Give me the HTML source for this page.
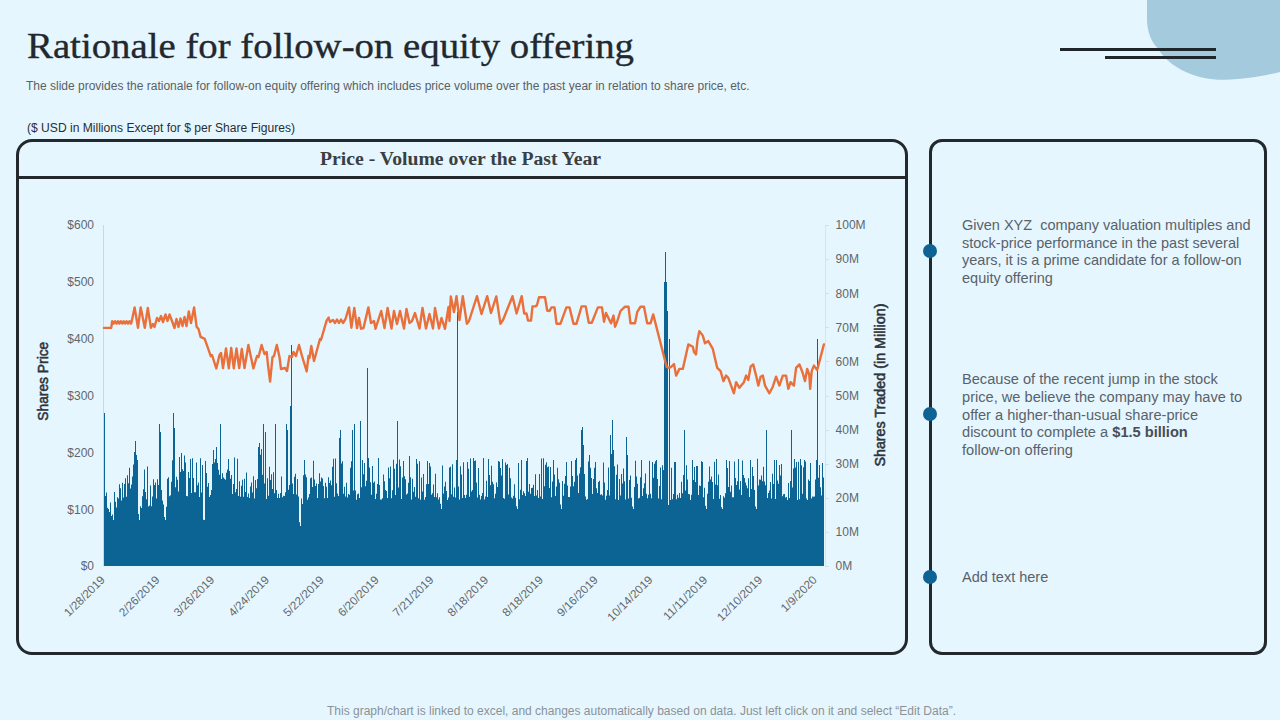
<!DOCTYPE html>
<html><head><meta charset="utf-8">
<title>Rationale for follow-on equity offering</title>
<style>
html,body{margin:0;padding:0;}
body{width:1280px;height:720px;overflow:hidden;background:#e6f6fe;position:relative;font-family:"Liberation Sans",sans-serif;}
.abs{position:absolute;white-space:nowrap;}
#title{left:27px;top:24px;transform:scaleX(1.0778);-webkit-text-stroke:0.35px #22282d;font-family:"Liberation Serif",serif;font-size:36px;line-height:44px;color:#22282d;transform-origin:0 50%;}
#sub{left:26px;top:78px;font-size:12px;line-height:16px;color:#5a5f63;transform-origin:0 50%;}
#usd{left:27px;top:120px;transform:scaleX(1.007);font-size:12px;line-height:16px;color:#2a2e31;transform-origin:0 50%;}
#foot{left:327px;top:703px;font-size:12px;line-height:16px;color:#8a9297;transform-origin:0 50%;}
.panel{position:absolute;box-sizing:border-box;border:3px solid #22282c;}
#pl{left:16px;top:139px;width:892px;height:516px;border-radius:16px;}
#pr{left:929px;top:139px;width:338px;height:516px;border-radius:13px;}
#divider{position:absolute;left:18px;top:176px;width:889px;height:3px;background:#22282c;}
#ctitle{left:320px;top:148px;transform:scaleX(1.0938);font-family:"Liberation Serif",serif;font-weight:bold;font-size:18px;line-height:22px;color:#3a3f44;transform-origin:0 50%;}
.dot{position:absolute;width:14px;height:14px;border-radius:50%;background:#0e6394;left:923px;}
.rt{position:absolute;left:962px;font-size:14.5px;line-height:17.7px;color:#59626a;white-space:nowrap;}
.rt b{color:#474e55;}
svg{position:absolute;left:0;top:0;}
</style></head>
<body>
<svg width="1280" height="720" viewBox="0 0 1280 720">
<path d="M1147 0 L1147 18 C1147 30 1150 40 1157.5 48 C1164 58 1172 66 1187 72.5 C1199 78 1212 80 1225 79.7 C1245 79.5 1263 76 1280 72 L1280 0 Z" fill="#a3cadd"/>
<rect x="1060" y="48" width="156" height="3" fill="#1f272c"/>
<rect x="1105" y="56" width="111" height="3" fill="#1f272c"/>
</svg>
<div id="title" class="abs">Rationale for follow-on equity offering</div>
<div id="sub" class="abs">The slide provides the rationale for follow-on equity offering which includes price volume over the past year in relation to share price, etc.</div>
<div id="usd" class="abs">($ USD in Millions Except for $ per Share Figures)</div>
<div id="pl" class="panel"></div>
<div id="divider"></div>
<div id="ctitle" class="abs">Price - Volume over the Past Year</div>
<div id="pr" class="panel"></div>
<svg width="1280" height="720" viewBox="0 0 1280 720"><style>.ax{font-family:"Liberation Sans",sans-serif;font-size:12px;fill:#5f666b}.dt{font-size:11.7px}.at{font-family:"Liberation Sans",sans-serif;font-weight:normal;font-size:14px;fill:#2e353b;stroke:#2e353b;stroke-width:0.55px}</style><rect x="103" y="225" width="1" height="341" fill="#cfd6dc"/><rect x="825" y="225" width="1" height="341" fill="#d9e3ea"/><path d="M104.00 566.00L104.00 413.0 L105.00 413.0L105.00 496.0 L106.00 496.0L106.00 492.5 L107.00 492.5L107.00 507.8 L108.00 507.8L108.00 509.0 L109.00 509.0L109.00 512.0 L110.00 512.0L110.00 502.5 L111.00 502.5L111.00 515.9 L112.00 515.9L112.00 514.4 L113.00 514.4L113.00 520.0 L114.00 520.0L114.00 492.0 L115.00 492.0L115.00 501.7 L116.00 501.7L116.00 507.4 L117.00 507.4L117.00 497.2 L118.00 497.2L118.00 498.6 L119.00 498.6L119.00 484.2 L120.00 484.2L120.00 488.3 L121.00 488.3L121.00 500.5 L122.00 500.5L122.00 482.7 L123.00 482.7L123.00 497.4 L124.00 497.4L124.00 484.1 L125.00 484.1L125.00 478.3 L126.00 478.3L126.00 496.8 L127.00 496.8L127.00 475.3 L128.00 475.3L128.00 483.3 L129.00 483.3L129.00 467.8 L130.00 467.8L130.00 488.5 L131.00 488.5L131.00 484.6 L132.00 484.6L132.00 476.5 L133.00 476.5L133.00 464.4 L134.00 464.4L134.00 452.0 L135.00 452.0L135.00 441.0 L136.00 441.0L136.00 455.0 L137.00 455.0L137.00 460.0 L138.00 460.0L138.00 514.1 L139.00 514.1L139.00 520.0 L140.00 520.0L140.00 506.3 L141.00 506.3L141.00 508.0 L142.00 508.0L142.00 496.2 L143.00 496.2L143.00 489.2 L144.00 489.2L144.00 469.4 L145.00 469.4L145.00 492.1 L146.00 492.1L146.00 499.3 L147.00 499.3L147.00 466.5 L148.00 466.5L148.00 506.4 L149.00 506.4L149.00 505.5 L150.00 505.5L150.00 485.4 L151.00 485.4L151.00 506.2 L152.00 506.2L152.00 496.6 L153.00 496.6L153.00 479.2 L154.00 479.2L154.00 485.1 L155.00 485.1L155.00 482.6 L156.00 482.6L156.00 498.5 L157.00 498.5L157.00 479.3 L158.00 479.3L158.00 485.1 L159.00 485.1L159.00 424.0 L160.00 424.0L160.00 432.0 L161.00 432.0L161.00 489.9 L162.00 489.9L162.00 500.6 L163.00 500.6L163.00 504.4 L164.00 504.4L164.00 517.1 L165.00 517.1L165.00 520.0 L166.00 520.0L166.00 506.8 L167.00 506.8L167.00 478.8 L168.00 478.8L168.00 477.2 L169.00 477.2L169.00 496.3 L170.00 496.3L170.00 495.2 L171.00 495.2L171.00 481.8 L172.00 481.8L172.00 460.3 L173.00 460.3L173.00 413.0 L174.00 413.0L174.00 428.0 L175.00 428.0L175.00 487.3 L176.00 487.3L176.00 476.8 L177.00 476.8L177.00 479.7 L178.00 479.7L178.00 491.6 L179.00 491.6L179.00 457.0 L180.00 457.0L180.00 472.1 L181.00 472.1L181.00 453.0 L182.00 453.0L182.00 469.3 L183.00 469.3L183.00 471.1 L184.00 471.1L184.00 455.6 L185.00 455.6L185.00 462.5 L186.00 462.5L186.00 496.0 L187.00 496.0L187.00 496.2 L188.00 496.2L188.00 472.0 L189.00 472.0L189.00 478.0 L190.00 478.0L190.00 459.0 L191.00 459.0L191.00 493.1 L192.00 493.1L192.00 458.2 L193.00 458.2L193.00 478.1 L194.00 478.1L194.00 492.3 L195.00 492.3L195.00 492.3 L196.00 492.3L196.00 462.5 L197.00 462.5L197.00 485.2 L198.00 485.2L198.00 482.6 L199.00 482.6L199.00 496.9 L200.00 496.9L200.00 458.3 L201.00 458.3L201.00 492.6 L202.00 492.6L202.00 465.0 L203.00 465.0L203.00 519.8 L204.00 519.8L204.00 520.0 L205.00 520.0L205.00 460.9 L206.00 460.9L206.00 472.9 L207.00 472.9L207.00 486.8 L208.00 486.8L208.00 483.0 L209.00 483.0L209.00 496.9 L210.00 496.9L210.00 494.9 L211.00 494.9L211.00 490.0 L212.00 490.0L212.00 464.1 L213.00 464.1L213.00 450.0 L214.00 450.0L214.00 462.5 L215.00 462.5L215.00 459.0 L216.00 459.0L216.00 447.0 L217.00 447.0L217.00 463.0 L218.00 463.0L218.00 469.7 L219.00 469.7L219.00 474.8 L220.00 474.8L220.00 424.0 L221.00 424.0L221.00 478.9 L222.00 478.9L222.00 473.2 L223.00 473.2L223.00 477.4 L224.00 477.4L224.00 478.8 L225.00 478.8L225.00 479.7 L226.00 479.7L226.00 472.8 L227.00 472.8L227.00 469.6 L228.00 469.6L228.00 459.0 L229.00 459.0L229.00 471.1 L230.00 471.1L230.00 478.7 L231.00 478.7L231.00 475.0 L232.00 475.0L232.00 494.0 L233.00 494.0L233.00 484.0 L234.00 484.0L234.00 457.4 L235.00 457.4L235.00 492.3 L236.00 492.3L236.00 489.1 L237.00 489.1L237.00 458.8 L238.00 458.8L238.00 496.0 L239.00 496.0L239.00 481.3 L240.00 481.3L240.00 496.8 L241.00 496.8L241.00 485.7 L242.00 485.7L242.00 479.8 L243.00 479.8L243.00 496.7 L244.00 496.7L244.00 478.8 L245.00 478.8L245.00 492.1 L246.00 492.1L246.00 472.4 L247.00 472.4L247.00 497.1 L248.00 497.1L248.00 493.5 L249.00 493.5L249.00 498.1 L250.00 498.1L250.00 486.5 L251.00 486.5L251.00 482.4 L252.00 482.4L252.00 492.6 L253.00 492.6L253.00 476.2 L254.00 476.2L254.00 498.6 L255.00 498.6L255.00 480.0 L256.00 480.0L256.00 488.2 L257.00 488.2L257.00 479.1 L258.00 479.1L258.00 447.0 L259.00 447.0L259.00 443.0 L260.00 443.0L260.00 454.7 L261.00 454.7L261.00 449.0 L262.00 449.0L262.00 474.7 L263.00 474.7L263.00 424.0 L264.00 424.0L264.00 483.5 L265.00 483.5L265.00 432.0 L266.00 432.0L266.00 498.9 L267.00 498.9L267.00 478.3 L268.00 478.3L268.00 495.7 L269.00 495.7L269.00 466.8 L270.00 466.8L270.00 479.9 L271.00 479.9L271.00 474.3 L272.00 474.3L272.00 489.0 L273.00 489.0L273.00 472.2 L274.00 472.2L274.00 493.2 L275.00 493.2L275.00 424.0 L276.00 424.0L276.00 489.9 L277.00 489.9L277.00 498.1 L278.00 498.1L278.00 493.8 L279.00 493.8L279.00 497.9 L280.00 497.9L280.00 493.1 L281.00 493.1L281.00 476.6 L282.00 476.6L282.00 497.3 L283.00 497.3L283.00 495.8 L284.00 495.8L284.00 495.9 L285.00 495.9L285.00 492.3 L286.00 492.3L286.00 424.0 L287.00 424.0L287.00 430.0 L288.00 430.0L288.00 489.7 L289.00 489.7L289.00 485.0 L290.00 485.0L290.00 406.0 L291.00 406.0L291.00 345.0 L292.00 345.0L292.00 483.4 L293.00 483.4L293.00 493.9 L294.00 493.9L294.00 476.8 L295.00 476.8L295.00 473.7 L296.00 473.7L296.00 494.5 L297.00 494.5L297.00 478.9 L298.00 478.9L298.00 496.5 L299.00 496.5L299.00 522.2 L300.00 522.2L300.00 526.0 L301.00 526.0L301.00 498.6 L302.00 498.6L302.00 504.0 L303.00 504.0L303.00 475.3 L304.00 475.3L304.00 459.9 L305.00 459.9L305.00 474.5 L306.00 474.5L306.00 477.3 L307.00 477.3L307.00 499.8 L308.00 499.8L308.00 497.5 L309.00 497.5L309.00 494.1 L310.00 494.1L310.00 478.2 L311.00 478.2L311.00 477.5 L312.00 477.5L312.00 487.0 L313.00 487.0L313.00 460.8 L314.00 460.8L314.00 479.5 L315.00 479.5L315.00 486.1 L316.00 486.1L316.00 483.5 L317.00 483.5L317.00 498.1 L318.00 498.1L318.00 484.1 L319.00 484.1L319.00 473.3 L320.00 473.3L320.00 481.6 L321.00 481.6L321.00 477.4 L322.00 477.4L322.00 478.4 L323.00 478.4L323.00 485.9 L324.00 485.9L324.00 498.2 L325.00 498.2L325.00 482.7 L326.00 482.7L326.00 486.8 L327.00 486.8L327.00 498.1 L328.00 498.1L328.00 477.3 L329.00 477.3L329.00 482.9 L330.00 482.9L330.00 480.5 L331.00 480.5L331.00 485.3 L332.00 485.3L332.00 466.8 L333.00 466.8L333.00 458.7 L334.00 458.7L334.00 496.8 L335.00 496.8L335.00 458.4 L336.00 458.4L336.00 483.2 L337.00 483.2L337.00 493.4 L338.00 493.4L338.00 495.9 L339.00 495.9L339.00 438.0 L340.00 438.0L340.00 430.0 L341.00 430.0L341.00 463.4 L342.00 463.4L342.00 461.3 L343.00 461.3L343.00 493.7 L344.00 493.7L344.00 486.7 L345.00 486.7L345.00 496.6 L346.00 496.6L346.00 482.8 L347.00 482.8L347.00 497.6 L348.00 497.6L348.00 494.1 L349.00 494.1L349.00 494.7 L350.00 494.7L350.00 467.7 L351.00 467.7L351.00 461.2 L352.00 461.2L352.00 430.0 L353.00 430.0L353.00 490.6 L354.00 490.6L354.00 424.0 L355.00 424.0L355.00 490.4 L356.00 490.4L356.00 499.7 L357.00 499.7L357.00 494.2 L358.00 494.2L358.00 493.5 L359.00 493.5L359.00 498.1 L360.00 498.1L360.00 421.0 L361.00 421.0L361.00 487.3 L362.00 487.3L362.00 460.1 L363.00 460.1L363.00 474.2 L364.00 474.2L364.00 463.0 L365.00 463.0L365.00 486.3 L366.00 486.3L366.00 480.7 L367.00 480.7L367.00 368.0 L368.00 368.0L368.00 458.0 L369.00 458.0L369.00 467.6 L370.00 467.6L370.00 482.2 L371.00 482.2L371.00 494.8 L372.00 494.8L372.00 466.1 L373.00 466.1L373.00 482.8 L374.00 482.8L374.00 481.5 L375.00 481.5L375.00 498.9 L376.00 498.9L376.00 493.7 L377.00 493.7L377.00 483.9 L378.00 483.9L378.00 458.0 L379.00 458.0L379.00 485.0 L380.00 485.0L380.00 499.4 L381.00 499.4L381.00 499.4 L382.00 499.4L382.00 498.2 L383.00 498.2L383.00 474.6 L384.00 474.6L384.00 481.2 L385.00 481.2L385.00 489.9 L386.00 489.9L386.00 491.0 L387.00 491.0L387.00 498.1 L388.00 498.1L388.00 467.6 L389.00 467.6L389.00 478.2 L390.00 478.2L390.00 466.6 L391.00 466.6L391.00 498.3 L392.00 498.3L392.00 490.3 L393.00 490.3L393.00 459.7 L394.00 459.7L394.00 468.8 L395.00 468.8L395.00 495.0 L396.00 495.0L396.00 463.8 L397.00 463.8L397.00 421.0 L398.00 421.0L398.00 487.4 L399.00 487.4L399.00 459.6 L400.00 459.6L400.00 466.3 L401.00 466.3L401.00 498.9 L402.00 498.9L402.00 477.5 L403.00 477.5L403.00 461.1 L404.00 461.1L404.00 476.3 L405.00 476.3L405.00 479.3 L406.00 479.3L406.00 494.5 L407.00 494.5L407.00 493.6 L408.00 493.6L408.00 482.7 L409.00 482.7L409.00 456.0 L410.00 456.0L410.00 477.2 L411.00 477.2L411.00 499.5 L412.00 499.5L412.00 478.8 L413.00 478.8L413.00 491.7 L414.00 491.7L414.00 486.9 L415.00 486.9L415.00 496.8 L416.00 496.8L416.00 459.0 L417.00 459.0L417.00 463.8 L418.00 463.8L418.00 498.3 L419.00 498.3L419.00 461.2 L420.00 461.2L420.00 499.8 L421.00 499.8L421.00 477.6 L422.00 477.6L422.00 491.5 L423.00 491.5L423.00 474.0 L424.00 474.0L424.00 499.8 L425.00 499.8L425.00 497.1 L426.00 497.1L426.00 484.2 L427.00 484.2L427.00 460.9 L428.00 460.9L428.00 484.1 L429.00 484.1L429.00 463.0 L430.00 463.0L430.00 466.5 L431.00 466.5L431.00 494.7 L432.00 494.7L432.00 493.3 L433.00 493.3L433.00 484.4 L434.00 484.4L434.00 497.1 L435.00 497.1L435.00 473.7 L436.00 473.7L436.00 497.2 L437.00 497.2L437.00 493.2 L438.00 493.2L438.00 499.6 L439.00 499.6L439.00 497.2 L440.00 497.2L440.00 503.8 L441.00 503.8L441.00 509.0 L442.00 509.0L442.00 465.4 L443.00 465.4L443.00 493.4 L444.00 493.4L444.00 486.6 L445.00 486.6L445.00 481.7 L446.00 481.7L446.00 491.0 L447.00 491.0L447.00 500.0 L448.00 500.0L448.00 497.5 L449.00 497.5L449.00 467.6 L450.00 467.6L450.00 466.7 L451.00 466.7L451.00 494.2 L452.00 494.2L452.00 464.2 L453.00 464.2L453.00 496.7 L454.00 496.7L454.00 487.5 L455.00 487.5L455.00 497.5 L456.00 497.5L456.00 460.0 L457.00 460.0L457.00 312.0 L458.00 312.0L458.00 486.4 L459.00 486.4L459.00 499.6 L460.00 499.6L460.00 466.2 L461.00 466.2L461.00 474.4 L462.00 474.4L462.00 498.1 L463.00 498.1L463.00 462.2 L464.00 462.2L464.00 495.0 L465.00 495.0L465.00 498.1 L466.00 498.1L466.00 494.7 L467.00 494.7L467.00 462.0 L468.00 462.0L468.00 468.7 L469.00 468.7L469.00 496.7 L470.00 496.7L470.00 458.5 L471.00 458.5L471.00 491.5 L472.00 491.5L472.00 490.0 L473.00 490.0L473.00 458.0 L474.00 458.0L474.00 460.9 L475.00 460.9L475.00 460.5 L476.00 460.5L476.00 482.4 L477.00 482.4L477.00 497.5 L478.00 497.5L478.00 468.1 L479.00 468.1L479.00 494.7 L480.00 494.7L480.00 499.5 L481.00 499.5L481.00 496.1 L482.00 496.1L482.00 493.1 L483.00 493.1L483.00 458.1 L484.00 458.1L484.00 499.4 L485.00 499.4L485.00 496.5 L486.00 496.5L486.00 480.7 L487.00 480.7L487.00 497.1 L488.00 497.1L488.00 459.0 L489.00 459.0L489.00 475.1 L490.00 475.1L490.00 485.3 L491.00 485.3L491.00 465.8 L492.00 465.8L492.00 481.8 L493.00 481.8L493.00 484.2 L494.00 484.2L494.00 498.3 L495.00 498.3L495.00 493.8 L496.00 493.8L496.00 482.4 L497.00 482.4L497.00 487.0 L498.00 487.0L498.00 461.0 L499.00 461.0L499.00 461.8 L500.00 461.8L500.00 467.9 L501.00 467.9L501.00 475.5 L502.00 475.5L502.00 459.0 L503.00 459.0L503.00 497.9 L504.00 497.9L504.00 498.7 L505.00 498.7L505.00 462.6 L506.00 462.6L506.00 464.9 L507.00 464.9L507.00 464.1 L508.00 464.1L508.00 494.6 L509.00 494.6L509.00 467.8 L510.00 467.8L510.00 478.3 L511.00 478.3L511.00 497.4 L512.00 497.4L512.00 498.6 L513.00 498.6L513.00 495.8 L514.00 495.8L514.00 484.2 L515.00 484.2L515.00 497.7 L516.00 497.7L516.00 506.2 L517.00 506.2L517.00 509.0 L518.00 509.0L518.00 463.0 L519.00 463.0L519.00 499.3 L520.00 499.3L520.00 489.7 L521.00 489.7L521.00 460.0 L522.00 460.0L522.00 495.1 L523.00 495.1L523.00 491.3 L524.00 491.3L524.00 493.3 L525.00 493.3L525.00 496.0 L526.00 496.0L526.00 461.0 L527.00 461.0L527.00 458.0 L528.00 458.0L528.00 491.8 L529.00 491.8L529.00 484.1 L530.00 484.1L530.00 493.7 L531.00 493.7L531.00 488.1 L532.00 488.1L532.00 487.7 L533.00 487.7L533.00 484.7 L534.00 484.7L534.00 496.1 L535.00 496.1L535.00 474.3 L536.00 474.3L536.00 495.6 L537.00 495.6L537.00 490.0 L538.00 490.0L538.00 498.0 L539.00 498.0L539.00 474.0 L540.00 474.0L540.00 496.6 L541.00 496.6L541.00 458.4 L542.00 458.4L542.00 499.1 L543.00 499.1L543.00 458.3 L544.00 458.3L544.00 486.3 L545.00 486.3L545.00 464.7 L546.00 464.7L546.00 462.2 L547.00 462.2L547.00 467.2 L548.00 467.2L548.00 466.6 L549.00 466.6L549.00 487.9 L550.00 487.9L550.00 467.0 L551.00 467.0L551.00 497.2 L552.00 497.2L552.00 481.6 L553.00 481.6L553.00 460.0 L554.00 460.0L554.00 474.4 L555.00 474.4L555.00 496.1 L556.00 496.1L556.00 486.5 L557.00 486.5L557.00 467.7 L558.00 467.7L558.00 479.3 L559.00 479.3L559.00 482.7 L560.00 482.7L560.00 504.4 L561.00 504.4L561.00 509.0 L562.00 509.0L562.00 480.9 L563.00 480.9L563.00 495.7 L564.00 495.7L564.00 483.7 L565.00 483.7L565.00 476.1 L566.00 476.1L566.00 462.0 L567.00 462.0L567.00 485.5 L568.00 485.5L568.00 497.0 L569.00 497.0L569.00 496.9 L570.00 496.9L570.00 486.4 L571.00 486.4L571.00 461.0 L572.00 461.0L572.00 476.1 L573.00 476.1L573.00 486.2 L574.00 486.2L574.00 481.7 L575.00 481.7L575.00 460.0 L576.00 460.0L576.00 458.0 L577.00 458.0L577.00 475.6 L578.00 475.6L578.00 493.1 L579.00 493.1L579.00 473.6 L580.00 473.6L580.00 467.2 L581.00 467.2L581.00 430.0 L582.00 430.0L582.00 427.0 L583.00 427.0L583.00 445.0 L584.00 445.0L584.00 474.1 L585.00 474.1L585.00 496.5 L586.00 496.5L586.00 499.7 L587.00 499.7L587.00 498.9 L588.00 498.9L588.00 461.5 L589.00 461.5L589.00 455.0 L590.00 455.0L590.00 467.7 L591.00 467.7L591.00 478.1 L592.00 478.1L592.00 493.9 L593.00 493.9L593.00 478.9 L594.00 478.9L594.00 467.8 L595.00 467.8L595.00 462.1 L596.00 462.1L596.00 488.2 L597.00 488.2L597.00 493.1 L598.00 493.1L598.00 482.0 L599.00 482.0L599.00 480.8 L600.00 480.8L600.00 494.8 L601.00 494.8L601.00 494.3 L602.00 494.3L602.00 495.5 L603.00 495.5L603.00 462.6 L604.00 462.6L604.00 482.6 L605.00 482.6L605.00 499.8 L606.00 499.8L606.00 495.7 L607.00 495.7L607.00 489.9 L608.00 489.9L608.00 467.5 L609.00 467.5L609.00 495.4 L610.00 495.4L610.00 435.0 L611.00 435.0L611.00 454.0 L612.00 454.0L612.00 420.0 L613.00 420.0L613.00 450.0 L614.00 450.0L614.00 466.3 L615.00 466.3L615.00 499.3 L616.00 499.3L616.00 474.8 L617.00 474.8L617.00 464.6 L618.00 464.6L618.00 499.9 L619.00 499.9L619.00 479.1 L620.00 479.1L620.00 495.5 L621.00 495.5L621.00 473.9 L622.00 473.9L622.00 483.5 L623.00 483.5L623.00 468.5 L624.00 468.5L624.00 481.3 L625.00 481.3L625.00 499.6 L626.00 499.6L626.00 437.0 L627.00 437.0L627.00 455.0 L628.00 455.0L628.00 498.6 L629.00 498.6L629.00 479.9 L630.00 479.9L630.00 475.6 L631.00 475.6L631.00 497.8 L632.00 497.8L632.00 506.4 L633.00 506.4L633.00 509.0 L634.00 509.0L634.00 486.9 L635.00 486.9L635.00 460.8 L636.00 460.8L636.00 476.6 L637.00 476.6L637.00 483.8 L638.00 483.8L638.00 498.4 L639.00 498.4L639.00 497.7 L640.00 497.7L640.00 477.3 L641.00 477.3L641.00 460.0 L642.00 460.0L642.00 496.1 L643.00 496.1L643.00 488.3 L644.00 488.3L644.00 483.3 L645.00 483.3L645.00 473.5 L646.00 473.5L646.00 493.8 L647.00 493.8L647.00 498.2 L648.00 498.2L648.00 494.8 L649.00 494.8L649.00 460.8 L650.00 460.8L650.00 493.8 L651.00 493.8L651.00 498.3 L652.00 498.3L652.00 462.1 L653.00 462.1L653.00 477.7 L654.00 477.7L654.00 463.8 L655.00 463.8L655.00 461.3 L656.00 461.3L656.00 460.0 L657.00 460.0L657.00 479.0 L658.00 479.0L658.00 498.5 L659.00 498.5L659.00 485.9 L660.00 485.9L660.00 467.4 L661.00 467.4L661.00 499.3 L662.00 499.3L662.00 465.2 L663.00 465.2L663.00 470.0 L664.00 470.0L664.00 282.0 L665.00 282.0L665.00 252.0 L666.00 252.0L666.00 282.0 L667.00 282.0L667.00 311.0 L668.00 311.0L668.00 505.0 L669.00 505.0L669.00 339.0 L670.00 339.0L670.00 500.0 L671.00 500.0L671.00 467.8 L672.00 467.8L672.00 499.2 L673.00 499.2L673.00 494.1 L674.00 494.1L674.00 462.0 L675.00 462.0L675.00 462.1 L676.00 462.1L676.00 499.3 L677.00 499.3L677.00 494.7 L678.00 494.7L678.00 497.8 L679.00 497.8L679.00 492.9 L680.00 492.9L680.00 498.0 L681.00 498.0L681.00 481.8 L682.00 481.8L682.00 493.3 L683.00 493.3L683.00 475.1 L684.00 475.1L684.00 430.0 L685.00 430.0L685.00 490.4 L686.00 490.4L686.00 465.2 L687.00 465.2L687.00 479.5 L688.00 479.5L688.00 494.0 L689.00 494.0L689.00 494.3 L690.00 494.3L690.00 500.0 L691.00 500.0L691.00 494.7 L692.00 494.7L692.00 460.0 L693.00 460.0L693.00 480.1 L694.00 480.1L694.00 467.0 L695.00 467.0L695.00 482.1 L696.00 482.1L696.00 466.1 L697.00 466.1L697.00 465.9 L698.00 465.9L698.00 495.1 L699.00 495.1L699.00 485.5 L700.00 485.5L700.00 485.9 L701.00 485.9L701.00 461.3 L702.00 461.3L702.00 462.1 L703.00 462.1L703.00 497.2 L704.00 497.2L704.00 487.7 L705.00 487.7L705.00 505.7 L706.00 505.7L706.00 509.0 L707.00 509.0L707.00 493.7 L708.00 493.7L708.00 481.7 L709.00 481.7L709.00 466.4 L710.00 466.4L710.00 479.6 L711.00 479.6L711.00 476.5 L712.00 476.5L712.00 482.1 L713.00 482.1L713.00 498.9 L714.00 498.9L714.00 461.7 L715.00 461.7L715.00 484.6 L716.00 484.6L716.00 459.0 L717.00 459.0L717.00 485.2 L718.00 485.2L718.00 474.6 L719.00 474.6L719.00 498.7 L720.00 498.7L720.00 495.1 L721.00 495.1L721.00 507.2 L722.00 507.2L722.00 509.0 L723.00 509.0L723.00 496.3 L724.00 496.3L724.00 497.7 L725.00 497.7L725.00 493.2 L726.00 493.2L726.00 460.0 L727.00 460.0L727.00 467.9 L728.00 467.9L728.00 487.1 L729.00 487.1L729.00 460.9 L730.00 460.9L730.00 491.8 L731.00 491.8L731.00 485.5 L732.00 485.5L732.00 497.3 L733.00 497.3L733.00 497.2 L734.00 497.2L734.00 461.4 L735.00 461.4L735.00 478.1 L736.00 478.1L736.00 485.0 L737.00 485.0L737.00 481.3 L738.00 481.3L738.00 459.0 L739.00 459.0L739.00 489.6 L740.00 489.6L740.00 481.1 L741.00 481.1L741.00 494.9 L742.00 494.9L742.00 460.5 L743.00 460.5L743.00 475.1 L744.00 475.1L744.00 478.0 L745.00 478.0L745.00 482.6 L746.00 482.6L746.00 485.6 L747.00 485.6L747.00 488.3 L748.00 488.3L748.00 478.2 L749.00 478.2L749.00 497.0 L750.00 497.0L750.00 460.0 L751.00 460.0L751.00 488.9 L752.00 488.9L752.00 467.0 L753.00 467.0L753.00 476.1 L754.00 476.1L754.00 490.1 L755.00 490.1L755.00 506.6 L756.00 506.6L756.00 509.0 L757.00 509.0L757.00 458.7 L758.00 458.7L758.00 485.6 L759.00 485.6L759.00 479.4 L760.00 479.4L760.00 479.8 L761.00 479.8L761.00 475.4 L762.00 475.4L762.00 481.3 L763.00 481.3L763.00 466.7 L764.00 466.7L764.00 481.5 L765.00 481.5L765.00 485.3 L766.00 485.3L766.00 430.0 L767.00 430.0L767.00 498.1 L768.00 498.1L768.00 492.9 L769.00 492.9L769.00 490.5 L770.00 490.5L770.00 482.1 L771.00 482.1L771.00 498.4 L772.00 498.4L772.00 473.8 L773.00 473.8L773.00 483.9 L774.00 483.9L774.00 460.0 L775.00 460.0L775.00 499.1 L776.00 499.1L776.00 460.1 L777.00 460.1L777.00 480.4 L778.00 480.4L778.00 483.8 L779.00 483.8L779.00 465.1 L780.00 465.1L780.00 475.5 L781.00 475.5L781.00 463.9 L782.00 463.9L782.00 496.2 L783.00 496.2L783.00 494.2 L784.00 494.2L784.00 494.0 L785.00 494.0L785.00 497.4 L786.00 497.4L786.00 497.0 L787.00 497.0L787.00 500.0 L788.00 500.0L788.00 483.1 L789.00 483.1L789.00 497.9 L790.00 497.9L790.00 481.0 L791.00 481.0L791.00 430.0 L792.00 430.0L792.00 487.4 L793.00 487.4L793.00 468.4 L794.00 468.4L794.00 459.0 L795.00 459.0L795.00 467.5 L796.00 467.5L796.00 462.0 L797.00 462.0L797.00 499.9 L798.00 499.9L798.00 461.8 L799.00 461.8L799.00 499.3 L800.00 499.3L800.00 459.0 L801.00 459.0L801.00 465.2 L802.00 465.2L802.00 493.7 L803.00 493.7L803.00 467.2 L804.00 467.2L804.00 460.0 L805.00 460.0L805.00 461.6 L806.00 461.6L806.00 498.4 L807.00 498.4L807.00 500.0 L808.00 500.0L808.00 479.6 L809.00 479.6L809.00 480.9 L810.00 480.9L810.00 462.9 L811.00 462.9L811.00 498.4 L812.00 498.4L812.00 496.5 L813.00 496.5L813.00 496.7 L814.00 496.7L814.00 496.6 L815.00 496.6L815.00 479.4 L816.00 479.4L816.00 460.0 L817.00 460.0L817.00 339.0 L818.00 339.0L818.00 477.7 L819.00 477.7L819.00 464.9 L820.00 464.9L820.00 487.2 L821.00 487.2L821.00 495.5 L822.00 495.5L822.00 463.0 L823.00 463.0L823.00 477.4 L824.00 477.4L824.00 566.00 Z" fill="#0b6493"/><path d="M104.0 327.9 L111.2 327.9 L112.2 321.2 L112.2 321.2 L113.6 323.6 L115.1 321.2 L116.5 323.6 L118.0 321.2 L119.4 323.6 L120.8 321.2 L122.3 323.6 L123.7 321.2 L125.2 323.6 L126.6 321.2 L128.0 323.6 L129.5 321.2 L130.9 323.6 L131.4 322.7 L134.6 307.4 L138.0 327.7 L140.7 307.4 L144.8 327.7 L147.8 308.0 L150.9 327.7 L153.0 324.0 L154.5 327.0 L157.0 318.0 L159.0 321.0 L161.0 316.0 L163.0 322.0 L165.5 314.5 L167.5 321.0 L169.5 314.5 L172.0 321.0 L174.5 328.0 L176.5 319.0 L178.5 327.0 L180.5 318.5 L182.5 326.0 L184.5 317.0 L186.5 326.0 L188.8 311.5 L191.0 323.0 L194.1 307.4 L196.6 326.7 L198.5 329.0 L200.6 336.9 L204.7 338.9 L210.8 356.2 L212.0 355.0 L216.3 368.4 L219.5 355.0 L221.0 353.0 L223.0 368.0 L226.0 348.5 L228.8 368.4 L231.2 348.0 L233.8 368.4 L236.5 348.5 L239.2 368.0 L241.8 349.0 L244.5 368.0 L248.4 345.0 L253.4 368.4 L257.0 356.0 L258.5 357.0 L261.6 345.0 L264.5 354.0 L266.7 352.0 L268.0 365.0 L270.1 381.6 L272.5 357.0 L274.0 356.0 L276.8 345.0 L279.5 357.0 L281.0 369.0 L285.0 368.0 L287.0 371.0 L289.5 356.0 L292.0 357.0 L293.5 352.0 L296.0 356.0 L299.0 345.0 L302.0 356.0 L306.7 371.4 L308.5 356.0 L309.5 358.0 L311.3 346.0 L314.0 361.0 L320.0 339.0 L321.0 340.0 L326.6 320.6 L328.6 317.6 L330.0 322.0 L333.0 320.0 L335.0 323.0 L337.0 319.5 L339.0 323.0 L341.0 319.5 L343.0 323.0 L345.5 319.0 L349.0 307.4 L351.4 327.7 L354.3 308.0 L357.0 328.0 L359.0 318.0 L361.0 328.7 L363.5 328.0 L368.4 307.4 L371.0 323.0 L374.0 321.0 L375.5 328.7 L381.2 311.0 L384.5 328.0 L387.6 308.0 L391.5 328.5 L394.0 311.0 L397.0 324.0 L400.0 311.0 L404.0 328.5 L406.5 309.0 L409.5 323.0 L412.0 321.0 L415.0 313.0 L419.5 328.5 L422.5 308.0 L426.0 328.5 L429.5 314.0 L433.0 328.5 L435.0 308.0 L439.0 328.5 L441.5 318.0 L445.0 328.8 L448.5 307.0 L449.5 321.0 L450.8 296.5 L454.0 312.0 L456.5 296.2 L459.5 320.0 L462.8 296.2 L466.9 323.7 L469.0 321.0 L477.0 296.2 L481.5 314.0 L487.2 296.2 L491.0 313.0 L496.3 296.4 L500.4 323.7 L503.0 320.0 L512.5 296.2 L516.6 313.5 L521.7 296.2 L524.2 313.5 L526.5 313.5 L528.0 320.6 L531.0 320.6 L532.5 306.4 L535.5 306.4 L537.0 305.0 L539.0 297.3 L545.0 297.3 L547.2 310.5 L549.5 311.0 L551.5 307.4 L554.5 307.4 L556.5 323.7 L560.5 323.7 L566.4 307.4 L569.5 307.4 L573.5 323.7 L576.5 323.7 L581.6 306.4 L585.7 306.4 L588.8 322.7 L591.8 322.7 L597.9 307.4 L602.0 307.4 L604.0 321.7 L606.0 313.0 L611.0 323.3 L613.5 315.6 L615.0 326.7 L617.0 322.0 L620.5 311.0 L625.0 306.7 L628.5 306.7 L630.5 323.3 L635.0 323.3 L637.2 312.2 L640.5 306.7 L644.0 306.7 L647.2 323.3 L650.5 323.3 L653.2 314.4 L666.6 366.7 L668.3 367.8 L671.0 367.0 L674.0 364.0 L676.1 375.6 L679.4 368.9 L682.8 368.9 L688.3 344.4 L692.8 346.7 L694.0 352.0 L696.0 354.4 L697.5 340.0 L699.4 331.1 L702.8 335.6 L705.0 343.3 L708.3 341.1 L712.8 348.9 L717.2 367.8 L720.6 371.1 L723.4 381.1 L726.1 375.6 L728.3 377.8 L733.9 393.3 L736.1 382.2 L739.4 387.8 L743.9 382.2 L746.1 375.6 L748.3 380.0 L750.6 366.7 L753.2 364.4 L756.1 375.6 L758.3 385.6 L760.6 376.7 L762.8 375.6 L765.0 385.6 L769.4 393.3 L772.8 386.7 L776.1 376.7 L779.4 385.6 L782.8 375.6 L786.1 375.6 L788.3 388.9 L790.6 382.2 L793.9 385.6 L796.1 367.8 L799.4 364.4 L802.8 373.3 L805.0 381.1 L807.2 368.9 L809.3 375.0 L810.2 388.9 L811.7 371.1 L813.9 365.6 L817.2 370.0 L823.9 344.4" fill="none" stroke="#e9703a" stroke-width="2.4" stroke-linejoin="round" stroke-linecap="round"/><text x="94" y="570.3" text-anchor="end" class="ax">$0</text><text x="94" y="513.5" text-anchor="end" class="ax">$100</text><text x="94" y="456.6" text-anchor="end" class="ax">$200</text><text x="94" y="399.8" text-anchor="end" class="ax">$300</text><text x="94" y="343.0" text-anchor="end" class="ax">$400</text><text x="94" y="286.1" text-anchor="end" class="ax">$500</text><text x="94" y="229.3" text-anchor="end" class="ax">$600</text><rect x="825" y="566" width="4" height="1" fill="#d5dfe6"/><text x="835.6" y="570.3" class="ax">0M</text><rect x="825" y="532" width="4" height="1" fill="#d5dfe6"/><text x="835.6" y="536.2" class="ax">10M</text><rect x="825" y="498" width="4" height="1" fill="#d5dfe6"/><text x="835.6" y="502.1" class="ax">20M</text><rect x="825" y="464" width="4" height="1" fill="#d5dfe6"/><text x="835.6" y="468.0" class="ax">30M</text><rect x="825" y="430" width="4" height="1" fill="#d5dfe6"/><text x="835.6" y="433.9" class="ax">40M</text><rect x="825" y="396" width="4" height="1" fill="#d5dfe6"/><text x="835.6" y="399.8" class="ax">50M</text><rect x="825" y="361" width="4" height="1" fill="#d5dfe6"/><text x="835.6" y="365.7" class="ax">60M</text><rect x="825" y="327" width="4" height="1" fill="#d5dfe6"/><text x="835.6" y="331.6" class="ax">70M</text><rect x="825" y="293" width="4" height="1" fill="#d5dfe6"/><text x="835.6" y="297.5" class="ax">80M</text><rect x="825" y="259" width="4" height="1" fill="#d5dfe6"/><text x="835.6" y="263.4" class="ax">90M</text><rect x="825" y="225" width="4" height="1" fill="#d5dfe6"/><text x="835.6" y="229.3" class="ax">100M</text><text transform="translate(105.6,580.6) rotate(-45)" text-anchor="end" class="ax dt">1/28/2019</text><text transform="translate(160.4,580.6) rotate(-45)" text-anchor="end" class="ax dt">2/26/2019</text><text transform="translate(215.2,580.6) rotate(-45)" text-anchor="end" class="ax dt">3/26/2019</text><text transform="translate(269.9,580.6) rotate(-45)" text-anchor="end" class="ax dt">4/24/2019</text><text transform="translate(324.7,580.6) rotate(-45)" text-anchor="end" class="ax dt">5/22/2019</text><text transform="translate(379.5,580.6) rotate(-45)" text-anchor="end" class="ax dt">6/20/2019</text><text transform="translate(434.3,580.6) rotate(-45)" text-anchor="end" class="ax dt">7/21/2019</text><text transform="translate(489.1,580.6) rotate(-45)" text-anchor="end" class="ax dt">8/18/2019</text><text transform="translate(543.8,580.6) rotate(-45)" text-anchor="end" class="ax dt">8/18/2019</text><text transform="translate(598.6,580.6) rotate(-45)" text-anchor="end" class="ax dt">9/16/2019</text><text transform="translate(653.4,580.6) rotate(-45)" text-anchor="end" class="ax dt">10/14/2019</text><text transform="translate(708.2,580.6) rotate(-45)" text-anchor="end" class="ax dt">11/11/2019</text><text transform="translate(763.0,580.6) rotate(-45)" text-anchor="end" class="ax dt">12/10/2019</text><text transform="translate(817.7,580.6) rotate(-45)" text-anchor="end" class="ax dt">1/9/2020</text><text transform="translate(47.9,381.2) rotate(-90)" text-anchor="middle" class="at" textLength="79" lengthAdjust="spacingAndGlyphs">Shares Price</text><text transform="translate(885.0,385.1) rotate(-90)" text-anchor="middle" class="at" textLength="163" lengthAdjust="spacingAndGlyphs">Shares Traded (in Million)</text></svg>
<div class="dot" style="top:244px"></div>
<div class="dot" style="top:407px"></div>
<div class="dot" style="top:570px"></div>
<div class="rt" id="t1" style="top:216.9px">Given XYZ&nbsp; company valuation multiples and<br>stock-price performance in the past several<br>years, it is a prime candidate for a follow-on<br>equity offering</div>
<div class="rt" id="t2" style="top:371.2px;font-size:14.62px">Because of the recent jump in the stock<br>price, we believe the company may have to<br>offer a higher-than-usual share-price<br>discount to complete a <b>$1.5 billion</b><br>follow-on offering</div>
<div class="rt" id="t3" style="top:568.9px">Add text here</div>
<div id="foot" class="abs">This graph/chart is linked to excel, and changes automatically based on data. Just left click on it and select “Edit Data”.</div>
</body></html>
